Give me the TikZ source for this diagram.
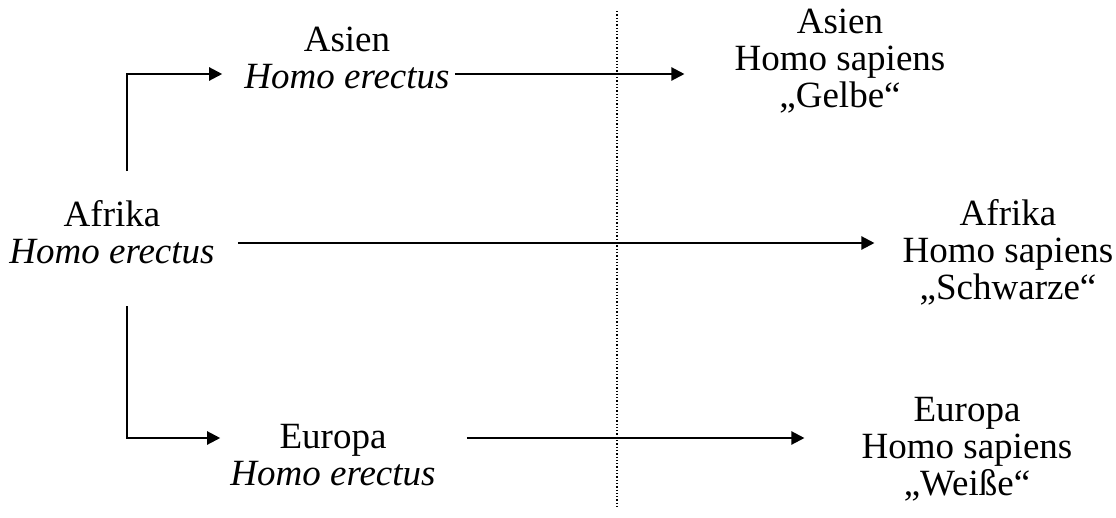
\documentclass[tikz,border=0pt]{standalone}
\usepackage{fontspec}
\setmainfont{Liberation Serif}
\usetikzlibrary{arrows.meta}
\begin{document}
\begin{tikzpicture}[x=1pt,y=-1pt,
  lbl/.style={align=center,inner sep=0pt,anchor=center,font=\fontsize{37}{37}\selectfont},
  arr/.style={line width=2.2pt,-{Triangle[length=13pt,width=13pt]}},
  sep/.style={line width=1.3pt,dash pattern=on 1.3pt off 2pt}]
\useasboundingbox (0,0) rectangle (1116,517);

% populations
\node[lbl] (afL) at (112,232) {Afrika\\\textit{Homo erectus}};
\node[lbl] (asL) at (347,58)  {Asien\\\textit{Homo erectus}};
\node[lbl] (euL) at (333,455) {Europa\\\textit{Homo erectus}};
\node[lbl] (asR) at (840,61)  {Asien\\Homo sapiens\\„Gelbe“};
\node[lbl] (afR) at (1008,252) {Afrika\\Homo sapiens\\„Schwarze“};
\node[lbl] (euR) at (967,449) {Europa\\Homo sapiens\\„Weiße“};

% migration out of Africa
\coordinate (upS) at (127,171);
\coordinate (dnS) at (127,306);
\draw[arr] (upS) |- ([xshift=-22pt,yshift=-16pt]asL.west);
\draw[arr] (dnS) |- ([xshift=-10pt,yshift=17pt]euL.west);

% regional development
\draw[arr] ([xshift=5pt,yshift=-16pt]asL.east) -- ([xshift=-50pt,yshift=-13pt]asR.west);
\draw[arr] ([xshift=23pt,yshift=-11pt]afL.east) -- ([xshift=-28pt,yshift=9pt]afR.west);
\draw[arr] ([xshift=31pt,yshift=17pt]euL.east) -- ([xshift=-57pt,yshift=11pt]euR.west);

% separator
\coordinate (sepT) at (617,11);
\coordinate (sepB) at (617,507);
\draw[sep] (sepT) -- (sepB);
\end{tikzpicture}
\end{document}
